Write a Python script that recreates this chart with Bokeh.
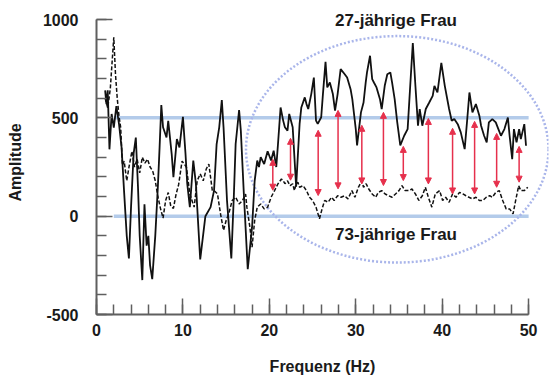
from bokeh.plotting import figure
from bokeh.models import (Range1d, Label, Arrow, NormalHead, ColumnDataSource,
                          SingleIntervalTicker, PrintfTickFormatter)
from bokeh.embed import file_html
from bokeh.resources import INLINE

# 27-jährige Frau (solid)
solid_x = [1.0, 1.15, 1.3, 1.5, 1.75, 2.0, 2.3, 2.6, 2.9, 3.2, 3.5, 3.75, 4.0, 4.3, 4.55, 4.8, 5.0, 5.3,
           5.55, 5.8, 6.0, 6.2, 6.45, 6.8, 7.1, 7.3, 7.5, 7.7, 8.1, 8.3, 8.7, 8.9, 9.3, 9.6, 10.0, 10.3,
           10.5, 10.8, 11.2, 11.5, 12.0, 12.6, 13.2, 13.6, 13.9, 14.2, 14.5, 14.7, 15.1, 15.6, 15.9,
           16.1, 16.5, 16.7, 17.05, 17.5, 18.0, 18.3, 18.6, 18.8, 19.0, 19.4, 19.8, 20.2, 20.5, 20.8,
           21.0, 21.3, 21.6, 21.8, 22.1, 22.3, 22.7, 23.1, 23.5, 23.7, 24.1, 24.3, 24.5, 24.85, 25.15,
           25.4, 25.6, 26.0, 26.2, 26.5, 26.7, 27.0, 27.35, 27.6, 27.9, 28.25, 28.7, 29.0, 29.4, 29.6,
           30.0, 30.15, 30.6, 30.9, 31.15, 31.3, 31.65, 31.9, 32.1, 32.4, 32.8, 33.0, 33.35, 33.65,
           34.0, 34.2, 34.5, 34.8, 35.15, 35.6, 36.0, 36.3, 36.6, 36.9, 37.2, 37.4, 37.7, 38.1, 38.5,
           38.9, 39.1, 39.45, 39.9, 40.3, 40.8, 41.1, 41.4, 41.8, 42.15, 42.6, 42.9, 43.15, 43.5, 43.9,
           44.3, 44.5, 44.85, 45.15, 45.4, 45.8, 46.2, 46.5, 46.8, 47.2, 47.6, 47.8, 48.1, 48.3, 48.6,
           48.9, 49.1, 49.5, 49.7]
solid_y = [640, 570, 640, 340, 520, 450, 560, 470, 350, 120, -100, -215, 50, 320, 400, 150, -100, -325,
           60, -150, -100, -250, -320, -100, 150, 350, 565, 452, 400, 485, 316, 198, 392, 350, 505, 316,
           165, 46, 283, 165, -220, 0, 46, 130, 367, 452, 590, 452, 80, -215, 113,
           367, 540, 435, 113, -270, -56, 180, 283, 250, 300, 265, 330, 283, 333, 250,
           367, 553, 486, 452, 435, 520, 452, 150, 469, 553, 604, 570, 545, 621, 705,
           486, 469, 503, 621, 785, 655, 680, 621, 537, 621, 748, 723, 705, 646, 595,
           443, 360, 528, 578, 680, 731, 816, 697, 680, 655, 595, 545, 663, 722,
           731, 680, 595, 477, 360, 409, 443, 663, 880, 663, 460, 545, 460, 545, 578,
           612, 663, 629, 780, 663, 545, 485, 494, 468, 426, 341, 494, 629, 528, 570,
           511, 460, 409, 375, 477, 494, 477, 443, 409, 443, 502, 409, 290, 443, 375,
           443, 392, 468, 358]

# 73-jährige Frau (dashed)
dash_x = [1.0, 1.3, 1.6, 1.8, 2.0, 2.2, 2.4, 2.6, 2.8, 3.0, 3.2, 3.5, 3.8, 4.1, 4.4, 4.7, 5.0, 5.3, 5.6,
          5.9, 6.2, 6.5, 6.8, 7.1, 7.4, 7.7, 8.0, 8.3, 8.6, 8.9, 9.2, 9.5, 9.9, 10.4, 10.8, 11.3, 11.65,
          12.0, 12.35, 12.7, 13.0, 13.4, 13.6, 14.0, 14.35, 14.7, 15.0, 15.3, 15.7, 16.1, 16.5, 16.9,
          17.25, 17.4, 17.75, 18.0, 18.3, 18.6, 19.0, 19.4, 19.8, 20.2, 20.6, 21.0, 21.4, 21.6, 21.8,
          22.1, 22.4, 22.7, 22.9, 23.1, 23.3, 23.5, 23.9, 24.3, 24.65, 25.0, 25.4, 25.8, 26.1, 26.4,
          26.8, 27.2, 27.5, 27.9, 28.3, 28.7, 29.1, 29.55, 29.9, 30.3, 30.7, 30.9, 31.2, 31.5, 31.9,
          32.3, 32.6, 33.0, 33.4, 33.8, 34.2, 34.6, 35.0, 35.35, 35.7, 36.1, 36.5, 36.9, 37.3, 37.7,
          38.05, 38.4, 38.8, 39.2, 39.7, 40.05, 40.4, 40.8, 41.2, 41.6, 42.0, 42.4, 42.75, 43.1, 43.5,
          43.9, 44.3, 44.7, 45.1, 45.5, 45.8, 46.2, 46.6, 47.0, 47.4, 47.8, 48.2, 48.5, 48.85, 49.1,
          49.5, 49.9]
dash_y = [600, 550, 650, 780, 910, 720, 600, 510, 450, 260, 280, 180, 260, 330, 250, 290, 220, 300, 270,
          290, 250, 230, 180, 100, 40, -10, 80, 120, 50, 40, 110, 160, 280, 250, 113, 46, 180,
          215, 180, 240, 265, 130, 130, 113, 12, -72, -22, 12, 80, 96, 62, 80,
          113, 46, -56, -157, -22, 46, 62, 37, 46, 96, 130, 165, 189, 180, 165,
          180, 155, 165, 130, 165, 172, 147, 155, 130, 96, 80, 46, -13, 37, 80,
          71, 96, 80, 104, 96, 104, 88, 130, 96, 147, 180, 147, 165, 138, 113,
          96, 121, 130, 113, 104, 96, 113, 130, 155, 130, 130, 138, 113, 80, 104,
          147, 96, 46, 113, 130, 80, 96, 71, 113, 96, 121, 113, 104, 96, 88,
          96, 80, 80, 96, 104, 96, 121, 130, 80, 37, 37, 12, 80, 155, 130,
          130, 147]

# red double arrows
arrow_x = [20.4, 22.45, 25.65, 27.95, 30.7, 33.2, 35.5, 38.4, 41.2, 43.75, 46.3, 48.9]
arrow_top = [289, 396, 437, 538, 462, 528, 355, 497, 447, 482, 421, 355]
arrow_bottom = [132, 183, 105, 139, 164, 156, 181, 164, 113, 113, 147, 173]

# reference levels
ref_levels = [500, 0]
ref_start = [2, 2]
ref_end = [50, 50]

# highlight ellipse
ell_x, ell_y, ell_w, ell_h = 34.8, 340, 35, 1152

FONT = "Liberation Sans"
RED = "#e6304c"

p = figure(width=556, height=379, output_backend="svg", toolbar_location=None,
           x_range=Range1d(0, 52.3), y_range=Range1d(-500, 1046),
           min_border_left=96, min_border_right=8, min_border_top=10, min_border_bottom=65)
p.outline_line_color = None
p.xgrid.visible = False
p.ygrid.visible = False
p.background_fill_color = "white"

p.segment(x0=ref_start, x1=ref_end, y0=ref_levels, y1=ref_levels,
          line_color="#b3cbea", line_width=3.5)
p.ellipse(x=[ell_x], y=[ell_y], width=[ell_w], height=[ell_h], fill_color=None,
          line_color="#a9b5ea", line_width=2.5, line_dash="2 2")

p.line(dash_x, dash_y, line_color="#111111", line_width=1.5, line_dash="4 2")
p.line(solid_x, solid_y, line_color="#111111", line_width=1.8)

src = ColumnDataSource(dict(x=arrow_x, y0=arrow_bottom, y1=arrow_top))
p.add_layout(Arrow(start=NormalHead(size=6, fill_color=RED, line_color=RED, line_width=1),
                   end=NormalHead(size=6, fill_color=RED, line_color=RED, line_width=1),
                   x_start="x", y_start="y0", x_end="x", y_end="y1", source=src,
                   line_color=RED, line_width=1.5))

for ax in (p.xaxis[0], p.yaxis[0]):
    ax.axis_line_color = "#5f5f5f"
    ax.axis_line_width = 2
    ax.major_tick_line_color = "#5f5f5f"
    ax.minor_tick_line_color = "#5f5f5f"
    ax.major_tick_line_width = 1.5
    ax.minor_tick_line_width = 1.5
    ax.major_tick_in = 16
    ax.major_tick_out = 0
    ax.minor_tick_in = 10
    ax.minor_tick_out = 0
    ax.major_label_text_font = FONT
    ax.major_label_text_font_style = "bold"
    ax.major_label_text_font_size = "16px"
    ax.major_label_text_color = "#1a1a1a"
    ax.axis_label_text_font = FONT
    ax.axis_label_text_font_style = "bold"
    ax.axis_label_text_font_size = "16px"
    ax.axis_label_text_color = "#1a1a1a"
    ax.formatter = PrintfTickFormatter(format="%d")

p.xaxis.ticker = SingleIntervalTicker(interval=10, num_minor_ticks=5)
p.yaxis.ticker = SingleIntervalTicker(interval=500, num_minor_ticks=5)
p.xaxis.bounds = (0, 50)
p.yaxis.bounds = (-500, 1000)
p.xaxis.major_label_standoff = 9
p.yaxis.major_label_standoff = 18
p.xaxis.axis_label = "Frequenz (Hz)"
p.yaxis.axis_label = "Amplitude"
p.xaxis.axis_label_standoff = 19
p.yaxis.axis_label_standoff = 16

def lab(x, y, text):
    p.add_layout(Label(x=x, y=y, text=text, text_font=FONT, text_font_style="bold",
                       text_font_size="17px", text_color="#1a1a1a", text_align="center",
                       text_baseline="alphabetic"))

lab(34.66, 994, "27-jährige Frau")
lab(34.66, -92, "73-jährige Frau")

open("out.html", "w").write(file_html(p, INLINE))
